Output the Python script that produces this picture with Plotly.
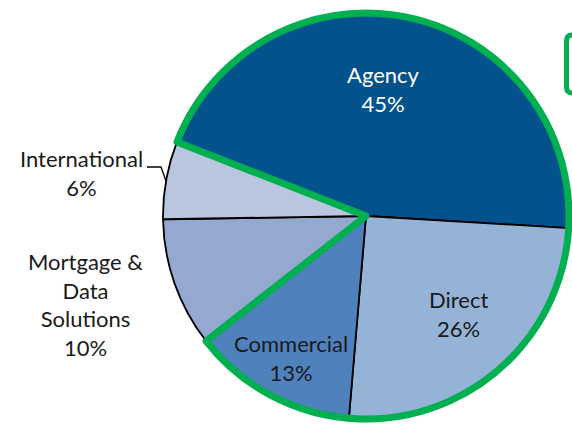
import plotly.graph_objects as go

# ---- data ----
categories = ["Agency", "Direct", "Commercial", "Mortgage &<br>Data<br>Solutions", "International"]
values = [45.0, 25.4, 13.1, 10.3, 6.2]
pct_labels = ["45%", "26%", "13%", "10%", "6%"]
outlined = ["Agency", "Direct", "Commercial"]

# ---- style ----
W, H = 572, 424
colors = ["#03528C", "#95B3D7", "#4F81BD", "#95A8D0", "#BAC6E0"]
text_colors = ["white", "#1a1a1a", "#1a1a1a", "#1a1a1a", "#1a1a1a"]
# label centres in pixels (style, not data)
label_px = [(383, 89), (459, 314), (291, 358), (85, 304), (81, 173)]
GREEN = "#00B050"
FONT = "Lato"

cx, cy, R = 366, 216, 203
dom_x = [(cx - R) / W, (cx + R) / W]
dom_y = [1 - (cy + R) / H, 1 - (cy - R) / H]
rotation = -68.6

fig = go.Figure()
fig.add_trace(go.Pie(
    labels=categories, values=values, sort=False, direction="clockwise",
    rotation=rotation, domain=dict(x=dom_x, y=dom_y),
    marker=dict(colors=colors, line=dict(color="black", width=1.8)),
    textinfo="none", hoverinfo="skip", showlegend=False,
))

in_sum = sum(v for c, v in zip(categories, values) if c in outlined)
out_sum = sum(values) - in_sum
fig.add_trace(go.Pie(
    labels=["outlined", "rest"], values=[in_sum, out_sum], sort=False,
    direction="clockwise", rotation=rotation, domain=dict(x=dom_x, y=dom_y),
    marker=dict(colors=["rgba(0,0,0,0)", "rgba(0,0,0,0)"],
                line=dict(color=[GREEN, "rgba(0,0,0,0)"], width=[7, 0])),
    textinfo="none", hoverinfo="skip", showlegend=False,
))

for cat, pct, (px, py), tc in zip(categories, pct_labels, label_px, text_colors):
    fig.add_annotation(
        x=px / W, y=1 - py / H, xref="paper", yref="paper",
        text=f"{cat}<br>{pct}", showarrow=False, align="center",
        font=dict(family=FONT, size=22, color=tc),
        xanchor="center", yanchor="middle",
    )

def P(x, y):
    return x / W, 1 - y / H

# leader line for International
(x0, y0), (x1, y1), (x2, y2) = P(147, 167), P(161, 167), P(166, 181)
fig.add_shape(type="path", xref="paper", yref="paper",
              path=f"M {x0} {y0} L {x1} {y1} L {x2} {y2}",
              line=dict(color="black", width=1.3))

# partial green box (rounded) at the right edge
L, T, Rt, B, r = 566.5, 35, 610, 93, 6
pts = [
    ("M", P(L + r, T)), ("L", P(Rt, T)), ("L", P(Rt, B)), ("L", P(L + r, B)),
    ("Q", P(L, B), P(L, B - r)), ("L", P(L, T + r)), ("Q", P(L, T), P(L + r, T)),
]
path = ""
for item in pts:
    cmd = item[0]
    coords = " ".join(f"{a} {b}" for a, b in item[1:])
    path += f"{cmd} {coords} "
path += "Z"
fig.add_shape(type="path", xref="paper", yref="paper", path=path,
              line=dict(color=GREEN, width=5), fillcolor="white")

fig.update_layout(
    width=W, height=H, margin=dict(l=0, r=0, t=0, b=0),
    paper_bgcolor="white", plot_bgcolor="white", showlegend=False,
)
fig.write_html(
    "out.html",
    config={"displayModeBar": False},
    post_script="document.body.style.margin='0';document.body.style.overflow='hidden';",
)
